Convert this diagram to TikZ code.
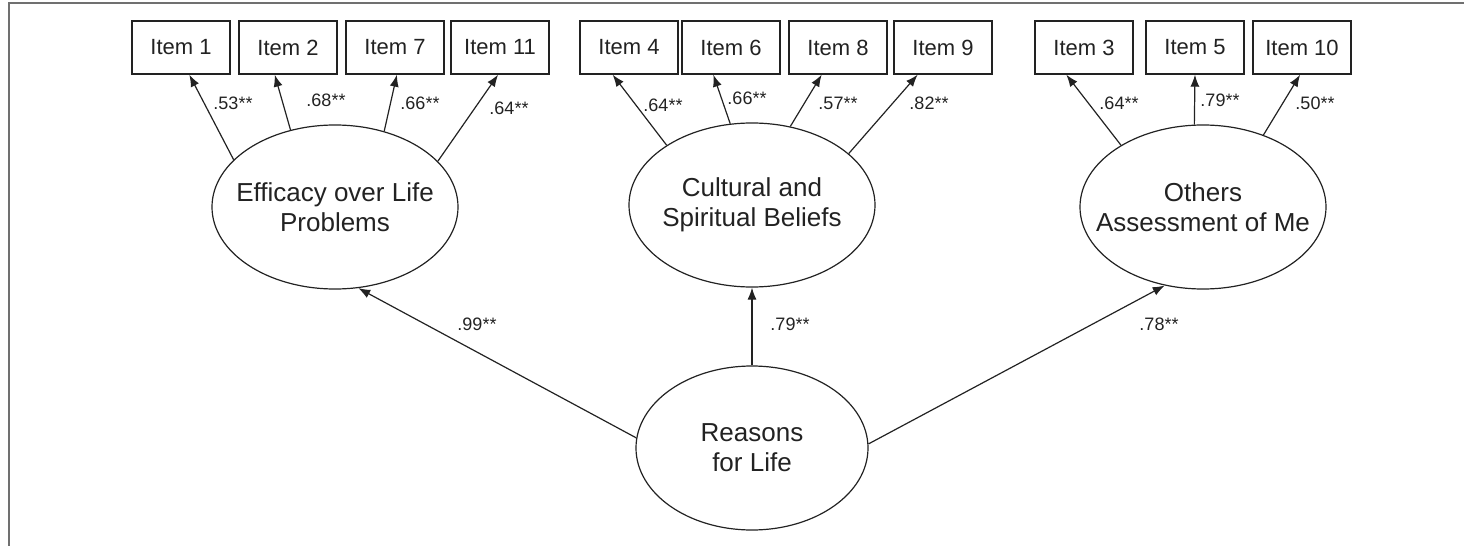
\documentclass[tikz,border=0pt]{standalone}
\usepackage{fontspec}
\setmainfont{Liberation Sans}
\usetikzlibrary{arrows.meta,shapes.geometric}
\definecolor{ink}  {RGB}{34, 34, 34}
\definecolor{frame}{RGB}{112,112,112}

\tikzset{
  item/.style={draw=ink,line width=0.7pt,minimum width=49pt,minimum height=26.5pt,
               inner sep=0pt,text=ink,font=\fontsize{11}{13}\selectfont},
  factor/.style={ellipse,draw=ink,line width=0.6pt,minimum width=123pt,minimum height=82pt,
                 inner xsep=-20pt,inner ysep=0pt,align=center,text=ink,
                 font=\fontsize{13}{15}\selectfont},
  loadarrow/.style={draw=ink,line width=0.6pt,-{Latex[length=6pt,width=4.5pt]}},
  coef/.style={inner sep=0pt,text=ink,font=\fontsize{9}{11}\selectfont}
}

\begin{document}
\begin{tikzpicture}[x=0.5pt,y=-0.5pt]
\useasboundingbox (0,0) rectangle (1464,546);
\draw[frame,line width=1.25pt] (9,546) -- (9,3) -- (1464,3);

\foreach \n/\x in {1/181,2/288,7/395,11/500,4/629,6/731,8/838,9/943,3/1084,5/1195,10/1302}
  \node[item] (i\n) at (\x,47.5) {Item \n};

\node[factor] (eff) at (335,207) {Efficacy over Life\\Problems};
\node[factor] (cul) at (752,205) {Cultural and\\Spiritual Beliefs};
\node[factor] (oth) at (1203,207) {Others\\Assessment of Me};
\node[factor,minimum width=116pt] (rfl) at (752,448) {Reasons\\for Life};

\foreach \f/\a/\n/\b in {eff/155/1/-73,eff/120/2/-116,eff/57/7/-86,eff/24/11/-94,
                         cul/145/4/-121,cul/105/6/-123,cul/64/8/-121,cul/28/9/-133,
                         oth/143/3/-123,oth/96/5/-90,oth/50/10/-94}
  \draw[loadarrow] (\f.\a) -- (i\n.\b);

\draw[loadarrow] (rfl.175) -- (eff.-74);
\draw[loadarrow] (rfl.90) -- (cul.-90);
\draw[loadarrow] (rfl.2) -- (oth.-116);

\foreach \n/\x/\y/\v in {1/233/103/53,2/326/100/68,7/420/103/66,11/509/108/64,
                         4/663/105/64,6/747/98/66,8/838/103/57,9/929/103/82,
                         3/1119/103/64,5/1220/100/79,10/1315/103/50,
                         eff/477/324/99,cul/790/324/79,oth/1159/324/78}
  \node[coef] (c\n) at (\x,\y) {.\v**};
\end{tikzpicture}
\end{document}
